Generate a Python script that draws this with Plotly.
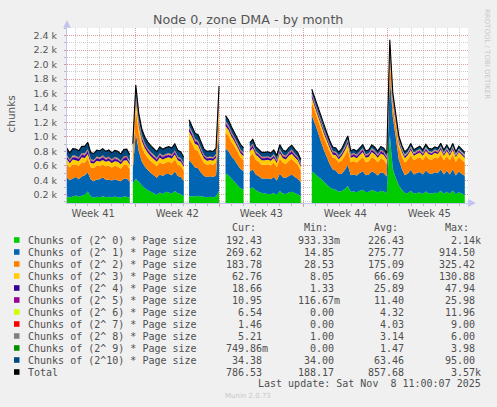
import plotly.graph_objects as go
import pandas as pd

N = None
# start of each continuous data segment (gaps between them); 6-hourly samples
seg_starts = ["2025-10-06 07:00", "2025-10-11 19:00", "2025-10-16 11:30",
              "2025-10-19 12:30", "2025-10-21 13:00", "2025-10-26 17:00"]

s00 = [180,160,175,190,170,185,200,245,175,160,170,165,180,165,170,160,175,165,160,175,170,155, N,
       350,420,380,330,290,260,240,220,200,230,210,240,230,215,250,220,210,180, N,
       180,180,175,185,175,170,165,170,165,175,250, N,
       490,470,420,380,330,290,270, N,
       290,300,260,240,225,215,210,205,225,195,250,215,210,230,240,220,205,180, N,
       520,490,450,420,380,340,300,280,270,240,
       250,280,320,240,245,235,255,270,235,240,265,250,230,255,245,225,
       1030,560,430,330,270,225,
       220,255,215,225,230,210,245,220,215,228,222,255,210,240,212,258,205,235,215,192.43]
s01 = [260,240,250,255,245,265,270,265,235,225,240,250,260,240,235,235,240,230,225,245,255,225, N,
       200,640,420,330,300,280,260,250,235,250,250,245,255,255,270,240,235,210, N,
       500,450,400,380,330,290,280,285,280,290,830, N,
       350,330,310,300,285,265,255, N,
       230,250,220,215,200,210,215,210,220,200,240,225,220,230,240,225,215,190, N,
       780,700,620,520,440,380,320,270,265,245,
       240,260,290,230,235,230,245,255,235,240,260,250,235,255,250,225,
       820,720,560,360,290,245,
       270,290,265,275,285,270,290,275,272,282,278,295,270,290,268,293,262,285,272,269.62]
s02 = [190,175,195,170,185,200,175,190,170,185,195,180,175,190,200,180,185,195,175,190,185,175, N,
       150,330,250,200,180,170,165,160,160,170,165,160,170,165,170,155,150,140, N,
       300,280,250,240,210,180,170,170,170,185,300, N,
       225,215,200,190,180,160,150, N,
       210,220,205,200,190,190,195,190,200,183,215,205,195,210,218,208,195,165, N,
       180,170,170,180,175,175,170,160,165,160,
       185,200,215,180,185,180,185,195,180,182,195,192,183,193,190,175,
       240,150,160,170,175,175,
       195,205,195,200,203,195,206,200,198,203,200,205,195,206,195,204,190,203,198,183.78]
s03 = [65,60,66,62,63,68,64,62,58,61,65,63,66,60,64,62,63,65,60,64,66,58, N,
       60,130,100,85,75,70,68,65,62,65,62,62,63,65,65,60,60,55, N,
       95,90,80,80,70,60,55,55,55,60,130, N,
       85,80,75,65,60,58,58, N,
       70,75,67,63,63,63,63,63,63,60,71,63,63,68,70,65,63,53, N,
       60,55,55,57,55,55,52,45,45,45,
       65,70,75,60,65,60,65,70,60,63,70,68,62,67,65,60,
       90,45,50,55,58,60,
       64,69,64,64,66,64,68,64,64,66,64,69,64,68,64,69,62,66,64,62.76]
s04 = [30,28,31,33,29,32,34,36,28,27,30,31,33,29,30,28,31,29,28,31,32,27, N,
       30,46,40,36,33,31,30,29,28,31,29,30,31,30,32,29,28,25, N,
       40,37,34,33,30,27,26,26,26,28,47, N,
       36,34,32,30,29,28,27, N,
       30,32,28,27,26,26,27,26,28,25,31,28,27,29,30,28,26,22, N,
       34,33,32,31,30,29,28,27,27,25,
       26,29,33,25,26,25,27,29,25,26,29,27,25,28,27,24,
       47,38,32,27,24,22,
       20,23,19,21,22,19,23,20,20,21,20,24,19,22,19,24,18,21,20,18.66]
s05 = [12,11,12,13,11,12,13,14,11,10,12,12,13,11,12,11,12,11,11,12,13,10, N,
       12,25,20,17,15,13,12,12,11,12,11,12,12,12,13,11,11,10, N,
       18,16,14,14,12,11,10,10,10,11,25, N,
       15,14,13,12,12,11,11, N,
       12,13,11,11,10,10,11,10,11,10,12,11,11,12,12,11,10,9, N,
       14,13,13,12,12,12,11,11,11,10,
       11,12,14,11,11,11,12,12,11,11,12,12,11,12,11,10,
       26,18,14,12,11,11,
       11,12,11,11,12,11,12,11,11,11,11,12,11,12,11,12,10,11,11,10.95]
s06 = [5,4,5,5,4,5,6,6,4,4,5,5,5,4,5,4,5,4,4,5,5,4, N,
       5,11,8,7,6,5,5,5,4,5,4,5,5,5,5,4,4,4, N,
       7,6,6,5,5,4,4,4,4,4,11, N,
       6,6,5,5,5,4,4, N,
       4,5,4,4,4,4,4,4,4,3,5,4,4,4,5,4,4,3, N,
       5,5,5,5,5,4,4,4,4,4,
       4,5,6,4,4,4,4,5,4,4,5,4,4,4,4,4,
       12,8,7,6,6,6,
       6,7,6,6,7,6,7,6,6,7,6,7,6,7,6,7,6,7,6,6.54]
s07 = [5,5,5,6,5,5,6,6,5,4,5,5,6,5,5,5,5,5,4,5,5,4, N,
       5,9,7,6,5,5,5,5,4,5,5,5,5,5,5,4,4,4, N,
       6,6,5,5,5,4,4,4,4,4,9, N,
       6,5,5,5,4,4,4, N,
       4,5,4,4,4,4,4,4,4,3,5,4,4,4,5,4,4,3, N,
       6,6,5,5,5,5,5,4,4,4,
       4,4,5,4,4,4,4,4,4,4,4,4,4,4,4,3,
       9,6,4,3,2,2,
       2,2,2,2,2,2,2,2,2,2,2,2,2,2,2,2,1,2,2,1.46]
s08 = [3,3,3,4,3,3,4,4,3,3,3,3,4,3,3,3,3,3,3,3,4,3, N,
       3,6,5,4,4,3,3,3,3,3,3,3,3,3,3,3,3,3, N,
       4,4,3,3,3,3,3,3,3,3,6, N,
       4,3,3,3,3,3,3, N,
       3,3,3,3,3,3,3,3,3,3,3,3,3,3,3,3,3,2, N,
       4,4,4,3,3,3,3,3,3,3,
       3,3,4,3,3,3,3,3,3,3,3,3,3,3,3,3,
       6,5,5,5,5,5,
       5,5,5,5,5,5,5,5,5,5,5,5,5,5,5,5,5,5,5,5.21]
s09 = [2,2,2,2,1,2,2,2,2,1,2,2,2,2,2,1,2,2,1,2,2,1, N,
       2,4,3,3,2,2,2,2,1,2,2,2,2,2,2,1,1,1, N,
       3,2,2,2,2,1,1,1,1,2,4, N,
       2,2,2,2,2,1,1, N,
       2,2,1,1,1,1,1,1,1,1,2,1,1,2,2,1,1,1, N,
       2,2,2,2,2,2,2,2,2,1,
       1,2,2,1,1,1,2,2,1,1,2,1,1,2,1,1,
       4,3,2,1,1,1,
       1,1,1,1,1,1,1,1,1,1,1,1,1,1,1,1,1,1,1,0.75]
s10 = [92,90,93,92,91,93,94,95,92,90,91,92,93,91,92,90,92,91,90,92,93,90, N,
       88,95,92,90,89,88,88,87,87,88,87,87,88,88,88,87,86,86, N,
       84,83,82,82,81,80,80,80,80,80,92, N,
       74,73,72,71,70,70,69, N,
       62,62,61,61,60,60,60,60,60,59,60,60,59,59,59,58,58,58, N,
       55,55,54,54,53,53,52,52,51,51,
       50,50,49,49,48,48,48,47,47,47,46,46,46,45,45,45,
       60,55,50,45,42,40,
       39,39,38,38,38,37,37,37,37,36,36,36,36,35,35,35,35,35,34,34.38]

labels = ["Chunks of (2^ 0) * Page size", "Chunks of (2^ 1) * Page size",
          "Chunks of (2^ 2) * Page size", "Chunks of (2^ 3) * Page size",
          "Chunks of (2^ 4) * Page size", "Chunks of (2^ 5) * Page size",
          "Chunks of (2^ 6) * Page size", "Chunks of (2^ 7) * Page size",
          "Chunks of (2^ 8) * Page size", "Chunks of (2^ 9) * Page size",
          "Chunks of (2^10) * Page size", "Total"]
colors = ["#00CC00", "#0066B3", "#FF8000", "#FFCC00", "#330099", "#990099",
          "#CCFF00", "#FF0000", "#808080", "#008F00", "#00487D", "#000000"]

cur_vals = [192.43, 269.62, 183.78, 62.76, 18.66, 10.95, 6.54, 1.46, 5.21, 0.74986, 34.38, 786.53]
min_vals = [0.93333, 14.85, 28.53, 8.05, 1.33, 0.11667, 0.0, 0.0, 1.00, 0.0, 34.00, 188.17]
avg_vals = [226.43, 275.77, 175.09, 66.69, 25.89, 11.40, 4.32, 4.03, 3.14, 1.47, 63.46, 857.68]
max_vals = [2140.0, 914.50, 325.42, 130.88, 47.94, 25.98, 11.96, 9.00, 6.00, 3.98, 95.00, 3570.0]

ytick_vals = [200, 400, 600, 800, 1000, 1200, 1400, 1600, 1800, 2000, 2200, 2400]
ytick_text = ["0.2 k", "0.4 k", "0.6 k", "0.8 k", "1.0 k", "1.2 k", "1.4 k",
              "1.6 k", "1.8 k", "2.0 k", "2.2 k", "2.4 k"]
week_bounds = ["2025-10-12", "2025-10-19", "2025-10-26", "2025-11-02"]
week_mid = ["2025-10-08 12:00", "2025-10-15 12:00", "2025-10-22 12:00",
            "2025-10-29 12:00", "2025-11-05 12:00"]
week_text = ["Week 41", "Week 42", "Week 43", "Week 44", "Week 45"]
x_range = ["2025-10-06 07:26", "2025-11-08 17:24"]
y_range = [85, 2506]

series = [s00, s01, s02, s03, s04, s05, s06, s07, s08, s09, s10]


def split(vals):
    segs, cur = [], []
    for v in vals:
        if v is None:
            segs.append(cur)
            cur = []
        else:
            cur.append(v)
    segs.append(cur)
    return segs


split_series = [split(s) for s in series]
nseg = len(seg_starts)
seg_times = [pd.date_range(seg_starts[i], periods=len(split_series[0][i]), freq="6h")
             for i in range(nseg)]

fig = go.Figure()
for si in range(nseg):
    for k in range(len(series)):
        fig.add_trace(go.Scatter(
            x=seg_times[si], y=split_series[k][si], stackgroup=f"seg{si}",
            mode="none", fillcolor=colors[k], line=dict(width=0),
            hoverinfo="skip", showlegend=False))

tx, ty = [], []
for si in range(nseg):
    sums = [sum(split_series[k][si][j] for k in range(len(series)))
            for j in range(len(seg_times[si]))]
    tx.extend(list(seg_times[si]))
    ty.extend(sums)
    tx.append(seg_times[si][-1] + pd.Timedelta(hours=1))
    ty.append(None)
fig.add_trace(go.Scatter(x=tx, y=ty, mode="lines", line=dict(color="#000000", width=1.1),
                         hoverinfo="skip", showlegend=False))
# carrier for the label axis
fig.add_trace(go.Scatter(x=[week_mid[0]], y=[None], xaxis="x2", mode="markers",
                         hoverinfo="skip", showlegend=False))

W, H = 497, 407
L, R, T, B = 67, 468, 28, 203


def px(x):
    return (x - L) / (R - L)


def py(y):
    return (B - y) / (B - T)


MGRID = "rgba(225,135,135,0.65)"
GRID = "rgba(175,175,175,0.6)"
AXIS = "#C4C4F2"
DOT = "1px,1px"

fig.update_layout(
    width=W, height=H,
    margin=dict(l=L, r=W - R, t=T, b=H - B, pad=0),
    paper_bgcolor="#F0F0F0", plot_bgcolor="#FFFFFF",
    showlegend=False,
    font=dict(family="DejaVu Sans", size=10, color="#555555"),
    xaxis=dict(type="date", range=x_range, tickmode="array", tickvals=week_bounds,
               showticklabels=False, showgrid=True, gridcolor=MGRID, griddash=DOT,
               gridwidth=1, ticks="outside", ticklen=3, tickcolor=MGRID,
               minor=dict(tickmode="linear", tick0="2025-10-05", dtick=86400000,
                          showgrid=True, gridcolor=GRID, griddash=DOT,
                          ticks="outside", ticklen=2, tickcolor="#BBBBBB"),
               showline=True, linecolor=AXIS, linewidth=1, zeroline=False,
               fixedrange=True),
    xaxis2=dict(type="date", range=x_range, overlaying="x", anchor="y", side="bottom",
                tickmode="array", tickvals=week_mid, ticktext=week_text,
                showgrid=False, ticks="", showline=False, zeroline=False,
                tickfont=dict(family="DejaVu Sans", size=10, color="#555555"),
                ticklabelstandoff=3, fixedrange=True),
    yaxis=dict(range=y_range, tickmode="array", tickvals=ytick_vals, ticktext=ytick_text,
               showgrid=True, gridcolor=MGRID, griddash=DOT, gridwidth=1,
               ticks="outside", ticklen=2, tickcolor=MGRID,
               minor=dict(tickmode="linear", tick0=0, dtick=100, showgrid=True,
                          gridcolor=GRID, griddash=DOT, ticks="outside", ticklen=2,
                          tickcolor="#BBBBBB"),
               showline=True, linecolor=AXIS, linewidth=1, zeroline=False,
               tickfont=dict(family="DejaVu Sans", size=9.5, color="#555555"),
               ticklabelstandoff=5, fixedrange=True),
)

ann = []
ann.append(dict(text="Node 0, zone DMA - by month", x=px(248), y=py(20), xref="paper",
                yref="paper", showarrow=False, xanchor="center", yanchor="middle",
                font=dict(family="DejaVu Sans", size=12.7, color="#555555")))
ann.append(dict(text="chunks", x=px(10.5), y=py(114), xref="paper", yref="paper",
                showarrow=False, textangle=-90, xanchor="center", yanchor="middle",
                font=dict(family="DejaVu Sans", size=10.5, color="#555555")))
ann.append(dict(text="RRDTOOL / TOBI OETIKER", x=px(487.5), y=py(53.5), xref="paper",
                yref="paper", showarrow=False, textangle=90, xanchor="center",
                yanchor="middle", font=dict(family="DejaVu Sans", size=7, color="#C8C8C8")))
# axis arrows
ann.append(dict(text="", x=px(67), y=py(20), xref="paper", yref="paper", showarrow=True,
                ax=0, ay=9, arrowhead=2, arrowsize=1.3, arrowwidth=1.2, arrowcolor=AXIS))
ann.append(dict(text="", x=px(476), y=py(203), xref="paper", yref="paper", showarrow=True,
                ax=-9, ay=0, arrowhead=2, arrowsize=1.3, arrowwidth=1.2, arrowcolor=AXIS))


def fmt(v):
    if v != 0 and abs(v) < 1:
        return f"{v * 1000:.2f}m"
    if abs(v) >= 1000:
        return f"{v / 1000:.2f}k"
    return f"{v:.2f}\u00a0"


MONO = "DejaVu Sans Mono"
TXT = "#4F4F4F"
col_right = [270.3, 342.3, 411.7, 482.7]
headers = ["Cur:", "Min:", "Avg:", "Max:"]
for c, h in enumerate(headers):
    ann.append(dict(text=h, x=px(col_right[c] - 12), y=py(227.5), xref="paper",
                    yref="paper", showarrow=False, xanchor="right", yanchor="middle",
                    font=dict(family=MONO, size=10, color=TXT)))
shapes = []
for i, lab in enumerate(labels):
    ry = 240 + 12 * i
    shapes.append(dict(type="rect", xref="paper", yref="paper", x0=px(14), x1=px(19.5),
                       y0=py(ry + 2.8), y1=py(ry - 2.8), fillcolor=colors[i],
                       line=dict(width=0)))
    ann.append(dict(text=lab, x=px(26), y=py(ry), xref="paper", yref="paper",
                    showarrow=False, xanchor="left", yanchor="middle",
                    font=dict(family=MONO, size=10, color=TXT)))
    for c, vals in enumerate([cur_vals, min_vals, avg_vals, max_vals]):
        ann.append(dict(text=fmt(vals[i]), x=px(col_right[c]), y=py(ry), xref="paper",
                        yref="paper", showarrow=False, xanchor="right", yanchor="middle",
                        font=dict(family=MONO, size=10, color=TXT)))
ann.append(dict(text="Last update: Sat Nov\u00a0\u00a08 11:00:07 2025", x=px(482.7),
                y=py(383.5), xref="paper", yref="paper", showarrow=False,
                xanchor="right", yanchor="middle", font=dict(family=MONO, size=10, color=TXT)))
ann.append(dict(text="Munin 2.0.73", x=px(247.7), y=py(395.7), xref="paper", yref="paper",
                showarrow=False, xanchor="center", yanchor="middle",
                font=dict(family="DejaVu Sans", size=7, color="#C8C8C8")))

fig.update_layout(annotations=ann, shapes=shapes)

fig.write_html("out.html", config={"displayModeBar": False, "staticPlot": True},
               post_script="document.body.style.margin='0px';")
